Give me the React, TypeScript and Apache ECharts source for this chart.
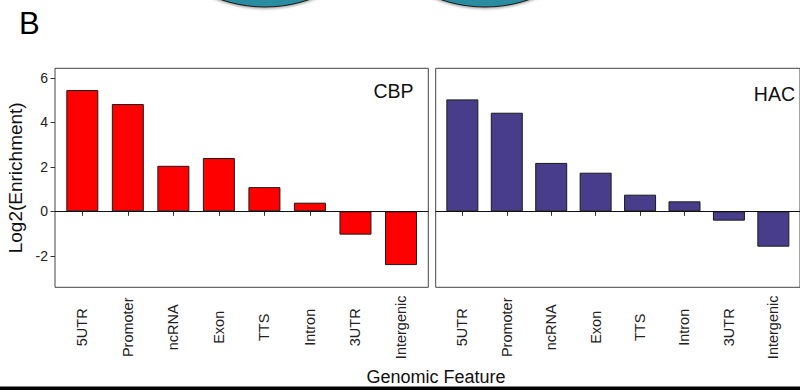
import React, { useEffect, useRef } from "react";
import * as echarts from "echarts";

const categories = ["5UTR", "Promoter", "ncRNA", "Exon", "TTS", "Intron", "3UTR", "Intergenic"];
const cbpValues = [5.46, 4.83, 2.05, 2.4, 1.09, 0.39, -1.05, -2.42];
const hacValues = [5.04, 4.44, 2.18, 1.74, 0.75, 0.45, -0.42, -1.59];
const yTicks = [-2, 0, 2, 4, 6];
const xPositions = categories.map((_, i) => i + 1);
const panelNames = ["CBP", "HAC"];

const FONT = "'Liberation Sans', Arial, Helvetica, sans-serif";

export default function App() {
  const ref = useRef<HTMLDivElement>(null);

  useEffect(() => {
    if (!ref.current) return;
    const chart = echarts.init(ref.current, null, { renderer: "svg" });

    const panelTop = 68.3;
    const panelHeight = 219;
    const panelWidth = 373.3;
    const lefts = [55, 435.7];

    const grids = lefts.map((l) => ({
      left: l,
      top: panelTop,
      width: panelWidth,
      height: panelHeight,
      show: true,
      borderColor: "#444",
      borderWidth: 1,
      backgroundColor: "transparent",
      containLabel: false,
    }));

    const xAxes = lefts.map((_, gi) => ({
      type: "value",
      gridIndex: gi,
      min: 0.4,
      max: 8.6,
      axisLine: { show: false },
      splitLine: { show: false },
      axisTick: {
        show: true,
        length: 4.5,
        customValues: xPositions,
        lineStyle: { color: "#333", width: 1 },
      },
      axisLabel: {
        show: true,
        customValues: xPositions,
        rotate: 90,
        align: "center",
        verticalAlign: "middle",
        padding: [11, 0, 0, 0],
        margin: 40,
        fontSize: 14.5,
        fontFamily: FONT,
        color: "#222",
        hideOverlap: false,
        formatter: (v: number) => categories[Math.round(v) - 1] ?? "",
      },
    }));

    const yAxes = lefts.map((_, gi) => ({
      type: "value",
      gridIndex: gi,
      min: -3.42,
      max: 6.44,
      axisLine: { show: false },
      splitLine: { show: false },
      axisTick: {
        show: gi === 0,
        length: 4.5,
        customValues: yTicks,
        lineStyle: { color: "#333", width: 1 },
      },
      axisLabel: {
        show: gi === 0,
        customValues: yTicks,
        margin: 7,
        fontSize: 14,
        fontFamily: FONT,
        color: "#222",
        formatter: (v: number) => String(v),
      },
      name: gi === 0 ? "Log2(Enrichment)" : "",
      nameLocation: "middle",
      nameGap: 30,
      nameTextStyle: { fontSize: 19, fontFamily: FONT, color: "#111" },
    }));

    const seriesData = [cbpValues, hacValues];
    const colors = ["#ff0000", "#483d8b"];

    const series = seriesData.map((vals, gi) => ({
      type: "bar",
      name: panelNames[gi],
      xAxisIndex: gi,
      yAxisIndex: gi,
      barWidth: 32,
      data: vals.map((v, i) => [xPositions[i], v]),
      itemStyle: { color: colors[gi], borderColor: "#1a1a1a", borderWidth: 1 },
      markLine: {
        silent: true,
        symbol: "none",
        label: { show: false },
        lineStyle: { color: "#111", width: 1, type: "solid" },
        data: [{ yAxis: 0 }],
      },
    }));

    chart.setOption({
      animation: false,
      backgroundColor: "#ffffff",
      grid: grids,
      xAxis: xAxes,
      yAxis: yAxes,
      series,
      graphic: [
        {
          type: "circle",
          shape: { cx: 265, cy: -128, r: 135 },
          style: {
            fill: "#2a8ca0",
            stroke: "#1a1a1a",
            lineWidth: 1,
            shadowBlur: 3,
            shadowColor: "rgba(0,0,0,0.45)",
            shadowOffsetY: 1,
          },
          z: 1,
        },
        {
          type: "circle",
          shape: { cx: 485, cy: -128, r: 135 },
          style: {
            fill: "#2a8ca0",
            stroke: "#1a1a1a",
            lineWidth: 1,
            shadowBlur: 3,
            shadowColor: "rgba(0,0,0,0.45)",
            shadowOffsetY: 1,
          },
          z: 1,
        },
        {
          type: "text",
          x: 19,
          y: 23.3,
          style: {
            text: "B",
            fontSize: 31,
            fontFamily: FONT,
            fill: "#000",
            verticalAlign: "middle",
          },
        },
        {
          type: "text",
          x: 413.5,
          y: 91,
          style: {
            text: panelNames[0],
            fontSize: 19.5,
            fontFamily: FONT,
            fill: "#111",
            align: "right",
            verticalAlign: "middle",
          },
        },
        {
          type: "text",
          x: 795,
          y: 94.2,
          style: {
            text: panelNames[1],
            fontSize: 19.5,
            fontFamily: FONT,
            fill: "#111",
            align: "right",
            verticalAlign: "middle",
          },
        },
        {
          type: "text",
          x: 436,
          y: 376.5,
          style: {
            text: "Genomic Feature",
            fontSize: 18,
            fontFamily: FONT,
            fill: "#111",
            align: "center",
            verticalAlign: "middle",
          },
        },
        {
          type: "rect",
          shape: { x: 0, y: 386.5, width: 800, height: 4 },
          style: { fill: "#000" },
        },
      ],
    });

    return () => chart.dispose();
  }, []);

  return (
    <div
      ref={ref}
      style={{ position: "fixed", left: 0, top: 0, width: 800, height: 390 }}
    />
  );
}
